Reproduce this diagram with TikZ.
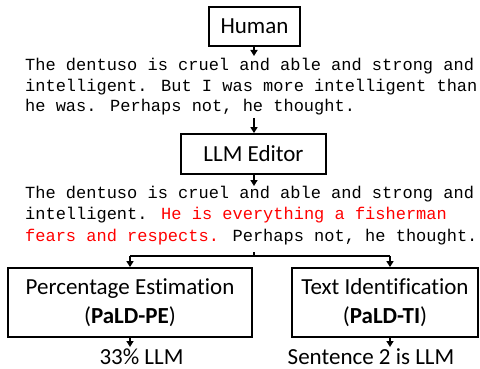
\documentclass[tikz,border=0pt]{standalone}
\usepackage{fontspec}
\setmainfont{Carlito}[Ligatures=NoCommon]
\newfontfamily\monof{Liberation Mono}
\usetikzlibrary{arrows.meta}
\begin{document}
\begin{tikzpicture}[x=1pt,y=-1pt,
  box/.style={draw,line width=1.8pt,inner sep=0pt,font=\fontsize{23}{29}\selectfont,align=center},
  mono/.style={anchor=base west,inner sep=0pt,font=\fontsize{17}{21}\monof},
  res/.style={anchor=base,inner sep=0pt,font=\fontsize{23}{29}\selectfont},
  arr/.style={line width=1.5pt,-{Triangle[length=6pt,width=7pt]}},
  ln/.style={line width=1.5pt}]
\useasboundingbox (0,0) rectangle (480,369);
\node[box,minimum width=91pt,minimum height=39pt] (human) at (254.5,26.5) {Human};
\node[mono] (a1) at (25,71) {The dentuso is cruel and able and strong and};
\node[mono] (a2) at (25,91.5) {intelligent. But I was more intelligent than};
\node[mono] (a3) at (25,112) {he was. Perhaps not, he thought.};
\node[box,minimum width=145pt,minimum height=40pt] (llm) at (253.5,154) {LLM Editor};
\node[mono] (b1) at (25,198) {The dentuso is cruel and able and strong and};
\node[mono] (b2) at (25,219.5) {intelligent. \textcolor{red}{He is everything a fisherman}};
\node[mono] (b3) at (25,241) {\textcolor{red}{fears and respects.} Perhaps not, he thought.};
\node[box,minimum width=244pt,minimum height=69pt] (pe) at (130,302.5) {Percentage Estimation\\(\textbf{PaLD-PE})};
\node[box,minimum width=186pt,minimum height=69pt] (ti) at (385,302.5) {Text Identification\\(\textbf{PaLD-TI})};
\node[res] (r1) at (141.5,364.5) {33\% LLM};
\node[res] (r2) at (371,364.5) {Sentence 2 is LLM};
\coordinate (t1) at (254,56);
\coordinate (s2) at (254,118);
\coordinate (t3) at (254,186);
\coordinate (s4) at (254,252);
\coordinate (j) at (254,256);
\coordinate (jl) at (130,256);
\coordinate (jr) at (390,256);
\coordinate (e1) at (130,347);
\coordinate (e2) at (390,347);
\draw[arr] (human.south -| t1) -- (t1);
\draw[arr] (s2) -- (s2 |- llm.north);
\draw[arr] (llm.south -| t3) -- (t3);
\draw[ln] (s4) -- (j);
\draw[ln] (jl) -- (jr);
\draw[arr] (jl) -- (jl |- pe.north);
\draw[arr] (jr) -- (jr |- ti.north);
\draw[arr] (pe.south -| e1) -- (e1);
\draw[arr] (ti.south -| e2) -- (e2);
\end{tikzpicture}
\end{document}
